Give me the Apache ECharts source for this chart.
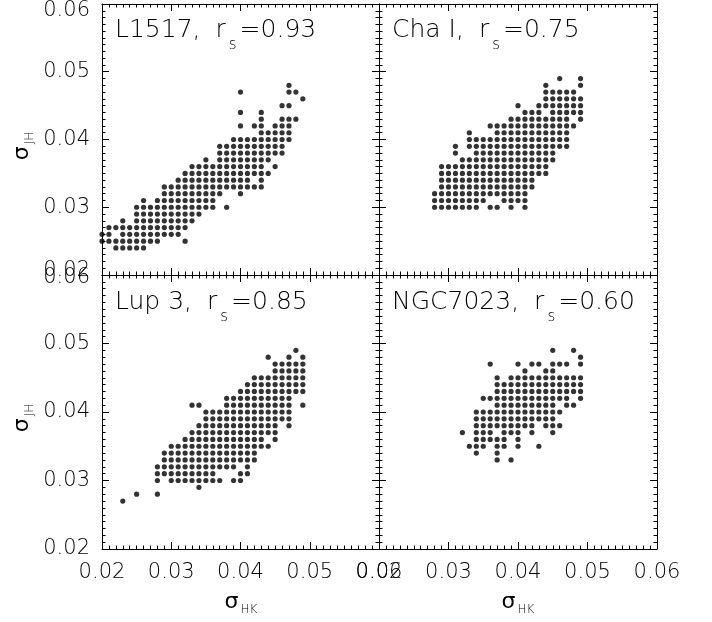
<!DOCTYPE html>
<html>
<head>
<meta charset="utf-8">
<script src="https://cdn.jsdelivr.net/npm/echarts@6/dist/echarts.min.js"></script>
<style>
html,body{margin:0;padding:0;background:#fff;}
#chart{width:712px;height:622px;}
</style>
</head>
<body>
<div id="chart"></div>
<script>
// ---- data (values in units of 0.001) ----
// each row: [sigma_JH, [sigma_HK values ...]]
const panelNames = ['L1517', 'Cha I', 'Lup 3', 'NGC7023'];
const panelRs = ['0.93', '0.75', '0.85', '0.60'];

const rowsL1517 = [
  [48,[47]],
  [47,[40,47,48]],
  [46,[49]],
  [45,[46,47]],
  [44,[40,43]],
  [43,[43,46,47,48]],
  [42,[40,42,43,45,46,47]],
  [41,[43,44,45,46,47]],
  [40,[39,40,41,42,43,44,45,46,47]],
  [39,[37,38,39,40,41,42,43,44,45,46]],
  [38,[37,38,39,40,41,42,43,44,45,46]],
  [37,[35,37,38,39,40,41,42,43,44]],
  [36,[33,34,35,36,37,38,39,40,41,42,43,45]],
  [35,[32,33,34,35,36,37,38,39,40,41,42,43,44]],
  [34,[31,32,33,34,35,36,37,38,39,40,41,43]],
  [33,[29,30,31,32,33,34,35,36,37,38,39,40,41,42,43]],
  [32,[29,30,31,32,33,34,35,36,37,40]],
  [31,[26,28,29,30,31,32,33,34,35,36]],
  [30,[25,26,27,28,29,30,31,32,33,34,35,36,38]],
  [29,[25,26,27,28,29,30,31,32,33,34]],
  [28,[23,25,26,27,28,29,30,31,32,33]],
  [27,[21,22,23,24,25,26,27,28,29,30,31,32]],
  [26,[20,21,23,24,25,26,27,28,29,30,31]],
  [25,[20,21,22,23,24,25,26,27,28,32]],
  [24,[22,23,24,25,26]]
];

const rowsChaI = [
  [49,[46,49]],
  [48,[44,49]],
  [47,[44,45,46,47,48]],
  [46,[44,45,46,47,48,49]],
  [45,[40,43,44,45,46,47,48,49]],
  [44,[41,42,43,45,46,47,48,49]],
  [43,[39,40,41,42,43,44,45,46,47,49]],
  [42,[36,37,38,39,40,41,42,43,44,45,46,47,48]],
  [41,[33,37,38,39,40,41,42,43,44,45,46,47]],
  [40,[33,34,35,36,37,38,39,40,41,42,43,44,45,46,47]],
  [39,[31,33,34,35,36,37,38,39,40,41,42,43,44,45,46,47]],
  [38,[31,34,35,36,37,38,39,40,41,42,43,44,45]],
  [37,[32,33,34,35,36,37,38,39,40,41,42,43,44,45]],
  [36,[29,30,31,32,33,34,35,36,37,38,39,40,41,42,43,44]],
  [35,[29,30,31,32,33,34,35,36,37,38,39,40,41,42,43,44]],
  [34,[29,30,31,32,33,34,35,36,37,38,39,40,41,42]],
  [33,[29,30,31,32,33,34,35,36,37,38,39,40,41,42]],
  [32,[28,29,30,31,32,33,34,35,36,37,38,39,40,41]],
  [31,[28,29,30,31,32,33,34,35,38,39,40,41]],
  [30,[28,29,30,31,32,33,34,36,37,39,41]]
];

const rowsLup3 = [
  [49,[48]],
  [48,[44,47,49]],
  [47,[45,46,47,48,49]],
  [46,[45,46,47,48,49]],
  [45,[42,43,44,45,46,47,48,49]],
  [44,[41,42,43,44,45,46,47,48,49]],
  [43,[40,41,42,43,44,45,46,47,48,49]],
  [42,[38,39,40,41,42,43,44,45,46,47]],
  [41,[33,34,38,39,40,41,42,43,44,45,46,47,49]],
  [40,[35,36,37,38,39,40,41,42,43,44,45,46,47]],
  [39,[35,36,37,38,39,40,41,42,43,44,45,46,47]],
  [38,[34,35,36,37,38,39,40,41,42,43,44,45,47]],
  [37,[33,34,35,36,37,38,39,40,41,42,43,44,45]],
  [36,[32,33,34,35,36,37,38,39,40,41,42,43,45]],
  [35,[30,31,32,33,34,35,36,37,38,39,40,41,42,43,44]],
  [34,[29,30,31,32,33,34,35,36,37,38,39,40,41,42]],
  [33,[29,30,31,32,33,34,35,36,37,38,39,40,41,42]],
  [32,[28,29,30,31,32,33,34,35,36,37,38,39,41]],
  [31,[28,29,30,31,32,33,34,35,36,40,41]],
  [30,[28,30,31,32,33,34,35,36,37,39,40]],
  [29,[34]],
  [28,[25,28]],
  [27,[23]]
];

const rowsNGC7023 = [
  [49,[45,48]],
  [48,[49]],
  [47,[36,40,42,43,45,46,47,49]],
  [46,[41,44,45]],
  [45,[37,39,40,41,42,43,44,45,46,47,48,49]],
  [44,[37,38,39,40,41,42,43,44,45,46,47,48,49]],
  [43,[37,38,39,40,41,42,43,44,45,46,47,48,49]],
  [42,[35,36,37,38,39,40,41,42,43,44,45,46,47,49]],
  [41,[37,38,39,40,41,42,43,44,45,47,48]],
  [40,[34,35,36,37,38,39,40,41,42,43,44,45,46]],
  [39,[34,35,36,37,38,39,40,41,42,43,44,45]],
  [38,[34,35,36,37,38,39,40,41,42,44,45,46]],
  [37,[32,34,35,36,38,39,40,42,45]],
  [36,[34,35,36,37,38,40]],
  [35,[33,34,35,37,38,40,43]],
  [34,[34,37]],
  [33,[37,39]]
];

const axisMin = 0.02, axisMax = 0.06, axisStep = 0.01;
const tickLabels = ['0.02','0.03','0.04','0.05','0.06'];

// ---- build ----
const panelRows = [rowsL1517, rowsChaI, rowsLup3, rowsNGC7023];
function toPoints(rows){
  const pts = [];
  rows.forEach(([y, xs]) => xs.forEach(x => pts.push([x/1000, y/1000])));
  return pts;
}

const FONT = 'DejaVu Sans';
const FW = 200;
const TXT = '#000';
const grids = [
  {left:102, top:4, width:277, height:271},
  {left:379, top:4, width:278, height:271},
  {left:102, top:275, width:277, height:274},
  {left:379, top:275, width:278, height:274}
];

function labelText(v){
  const i = Math.round((v - axisMin)/axisStep);
  return tickLabels[i];
}

const tickCommon = {
  axisLine:{show:true, onZero:false, lineStyle:{color:'#000', width:1}},
  axisTick:{show:true, inside:true, length:7, lineStyle:{color:'#000', width:1}},
  minorTick:{show:true, splitNumber:10, length:3.5, lineStyle:{color:'#000', width:1}},
  splitLine:{show:false}, minorSplitLine:{show:false}
};

const xAxes = [], yAxes = [], series = [];
grids.forEach((g, i) => {
  const bottomRow = i >= 2, leftCol = (i % 2) === 0;
  xAxes.push(Object.assign({
    type:'value', gridIndex:i, position:'bottom', min:axisMin, max:axisMax, interval:axisStep,
    axisLabel:{show:bottomRow, margin:13, color:TXT, fontFamily:FONT, fontWeight:FW, fontSize:21,
      formatter:labelText}
  }, tickCommon));
  xAxes.push(Object.assign({
    type:'value', gridIndex:i, position:'top', min:axisMin, max:axisMax, interval:axisStep,
    axisLabel:{show:false}
  }, tickCommon));
  const base = {fontFamily:FONT, fontWeight:FW, fontSize:21, color:TXT};
  const yRich = {
    n:Object.assign({}, base),
    dn:Object.assign({padding:[14,0,0,0]}, base),
    dn2:Object.assign({padding:[6,0,0,0]}, base),
    up:Object.assign({padding:[0,0,8,0]}, base)
  };
  yAxes.push(Object.assign({
    type:'value', gridIndex:i, position:'left', min:axisMin, max:axisMax, interval:axisStep,
    axisLabel:{show:leftCol, margin:12, color:TXT, fontFamily:FONT, fontWeight:FW, fontSize:21,
      rich:yRich,
      formatter:function(v){
        const t = labelText(v);
        if (i === 0 && t === '0.06') return '{dn|' + t + '}';
        if (i === 0 && t === '0.02') return '{up|' + t + '}';
        if (i === 2 && t === '0.06') return '{dn2|' + t + '}';
        return '{n|' + t + '}';
      }}
  }, tickCommon));
  yAxes.push(Object.assign({
    type:'value', gridIndex:i, position:'right', min:axisMin, max:axisMax, interval:axisStep,
    axisLabel:{show:false}
  }, tickCommon));
  series.push({
    type:'scatter', xAxisIndex:2*i, yAxisIndex:2*i,
    symbol:'circle', symbolSize:5.2,
    itemStyle:{color:'#000'},
    data:toPoints(panelRows[i]),
    silent:true
  });
});

const annRich = {
  a:{fontFamily:FONT, fontWeight:FW, fontSize:25, color:TXT, lineHeight:44},
  sp:{fontFamily:FONT, fontWeight:FW, fontSize:25, color:TXT, lineHeight:44, width:15},
  s:{fontFamily:FONT, fontWeight:FW, fontSize:15, color:TXT, lineHeight:14, padding:[30,3,0,3]}
};
const annPos = [[115,8],[392,8],[115,280],[392,280]];
const graphics = annPos.map((p, i) => ({
  type:'text', left:p[0], top:p[1], silent:true,
  style:{text:'{a|' + panelNames[i] + ',}{sp| }{a|r}{s|s}{a|=' + panelRs[i] + '}', rich:annRich}
}));

const sigRich = {
  g:{fontFamily:'DejaVu Sans', fontSize:22, color:TXT, lineHeight:30},
  j:{fontFamily:FONT, fontWeight:FW, fontSize:12, color:TXT, lineHeight:12, padding:[16,0,0,2]}
};
// y-axis titles (rotated)
[[22,146],[22,418]].forEach(p => graphics.push({
  type:'text', x:p[0], y:p[1], rotation:Math.PI/2, silent:true,
  style:{text:'{g|σ}{j|JH}', rich:sigRich, align:'center', verticalAlign:'middle'}
}));
// x-axis titles
[[241,602],[518,602]].forEach(p => graphics.push({
  type:'text', x:p[0], y:p[1], silent:true,
  style:{text:'{g|σ}{j|HK}', rich:sigRich, align:'center', verticalAlign:'middle'}
}));

const chart = echarts.init(document.getElementById('chart'), null, {renderer:'canvas'});
chart.setOption({
  animation:false,
  backgroundColor:'#fff',
  grid:grids.map(g => Object.assign({containLabel:false, show:false}, g)),
  xAxis:xAxes,
  yAxis:yAxes,
  series:series,
  graphic:graphics
});
</script>
</body>
</html>
